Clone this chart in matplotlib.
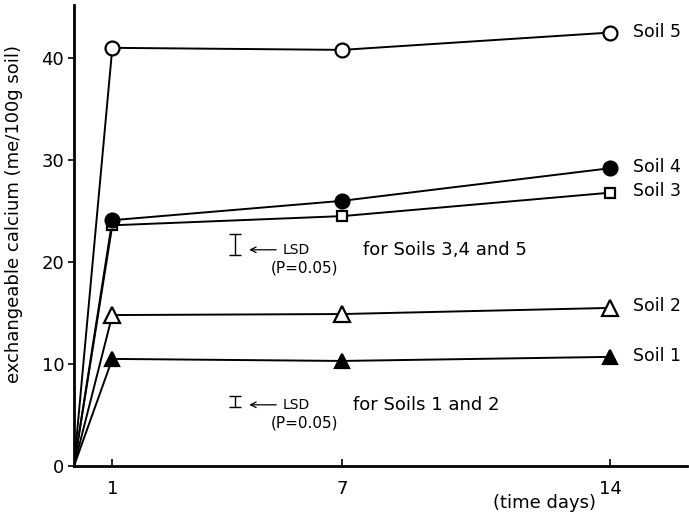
import matplotlib
matplotlib.use("Agg")
import matplotlib.pyplot as plt

days = [0, 1, 7, 14]
soil1 = [0, 10.5, 10.3, 10.7]
soil2 = [0, 14.8, 14.9, 15.5]
soil3 = [0, 23.6, 24.5, 26.8]
soil4 = [0, 24.1, 26.0, 29.2]
soil5 = [0, 41.0, 40.8, 42.5]
soil_names = ["Soil 1", "Soil 2", "Soil 3", "Soil 4", "Soil 5"]
x_ticks = [1, 7, 14]
y_ticks = [0, 10, 20, 30, 40]
lsd_high = 2.0   # LSD for soils 3, 4 and 5
lsd_low = 1.1    # LSD for soils 1 and 2

plt.rcParams['font.family'] = ['DejaVu Sans']

fig = plt.figure(figsize=(6.89, 5.19), dpi=100)
ax = fig.add_axes([74/689, 53/519, (687-74)/689, (466-5)/519])

styles = [
    dict(marker='^', mfc='black', ms=10),
    dict(marker='^', mfc='white', ms=11),
    dict(marker='s', mfc='white', ms=7),
    dict(marker='o', mfc='black', ms=10),
    dict(marker='o', mfc='white', ms=10),
]
series = [soil1, soil2, soil3, soil4, soil5]
for vals, st in zip(series, styles):
    ax.plot(days, vals, color='black', lw=1.4, zorder=2)
    ax.plot(days[1:], vals[1:], linestyle='none', marker=st['marker'],
            mfc=st['mfc'], mec='black', mew=1.6, ms=st['ms'], zorder=3)

label_y = {"Soil 5": 42.6, "Soil 4": 29.3, "Soil 3": 27.0, "Soil 2": 15.7, "Soil 1": 10.8}
for name in soil_names:
    ax.text(14.6, label_y[name], name, fontsize=12.5, va='center', ha='left')

# LSD bars with explanatory notes
def lsd_note(x, ybar, half, ytxt, xtxt, text):
    ax.errorbar([x], [ybar], yerr=[half], color='black', lw=1.0, capsize=4, capthick=1.0)
    ax.annotate('', xy=(x + 0.3, ytxt), xytext=(x + 1.15, ytxt),
                arrowprops=dict(arrowstyle='->', color='black', lw=0.9))
    ax.text(x + 1.25, ytxt, 'LSD', fontsize=10, va='center', ha='left')
    ax.text(x + 0.93, ytxt - 1.8, '(P=0.05)', fontsize=11, va='center', ha='left')
    ax.text(xtxt, ytxt, text, fontsize=13, va='center', ha='left')

lsd_note(4.2, 21.7, lsd_high / 2, 21.2, 7.55, 'for Soils 3,4 and 5')
lsd_note(4.2, 6.3, lsd_low / 2, 6.0, 7.28, 'for Soils 1 and 2')

ax.set_xlim(0, 16.0)
ax.set_ylim(0, 45.2)
ax.set_xticks(x_ticks)
ax.set_xticklabels([str(t) for t in x_ticks], fontsize=13)
ax.set_yticks(y_ticks)
ax.set_yticklabels([str(t) for t in y_ticks], fontsize=13)
ax.tick_params(axis='x', direction='in', length=5, width=1.2, pad=10)
ax.tick_params(axis='y', direction='out', length=4, width=1.2, pad=3)
for side in ('top', 'right'):
    ax.spines[side].set_visible(False)
for side in ('left', 'bottom'):
    ax.spines[side].set_linewidth(2.0)

ax.set_ylabel('exchangeable calcium (me/100g soil)', fontsize=13)
ax.yaxis.set_label_coords(-0.084, 0.547)
ax.text(12.27, -3.6, '(time days)', fontsize=13, ha='center', va='center')

fig.savefig('out.png', dpi=100)
